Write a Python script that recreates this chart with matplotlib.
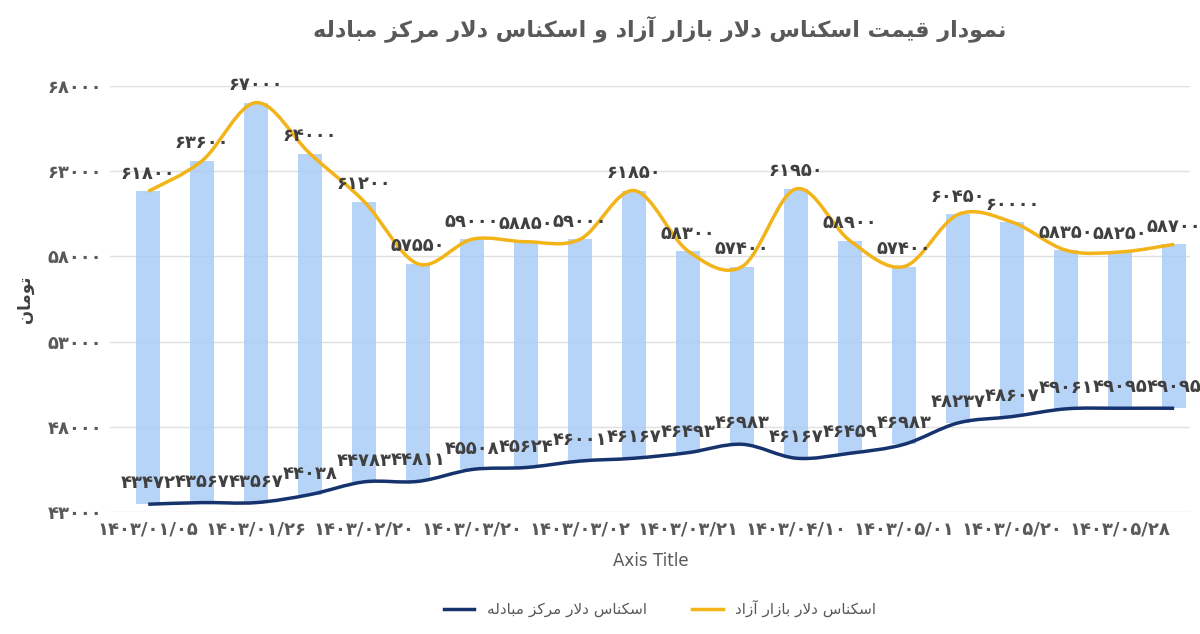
import matplotlib
matplotlib.use("Agg")
import matplotlib.pyplot as plt
from matplotlib.path import Path
from matplotlib.patches import PathPatch
from matplotlib.lines import Line2D
import numpy as np

free = [61800, 63600, 67000, 64000, 61200, 57550, 59000, 58850, 59000, 61850,
        58300, 57400, 61950, 58900, 57400, 60450, 60000, 58350, 58250, 58700]
center = [43472, 43567, 43567, 44038, 44783, 44811, 45508, 45624, 46001, 46167,
          46493, 46983, 46167, 46459, 46983, 48237, 48607, 49061, 49095, 49095]
tick_labels = ["1403/01/05", "1403/01/26", "1403/02/20", "1403/03/20", "1403/03/02",
               "1403/03/21", "1403/04/10", "1403/05/01", "1403/05/20", "1403/05/28"]
yticks = [43000, 48000, 53000, 58000, 63000, 68000]
title = "نمودار قیمت اسکناس دلار بازار آزاد و اسکناس دلار مرکز مبادله"
ylabel = "تومان"
leg_center = "اسکناس دلار مرکز مبادله"
leg_free = "اسکناس دلار بازار آزاد"

FORMS = {
    'ا': (0xFE8D, 0xFE8E, None, None), 'آ': (0xFE81, 0xFE82, None, None),
    'ب': (0xFE8F, 0xFE90, 0xFE91, 0xFE92), 'ت': (0xFE95, 0xFE96, 0xFE97, 0xFE98),
    'د': (0xFEA9, 0xFEAA, None, None), 'ر': (0xFEAD, 0xFEAE, None, None),
    'ز': (0xFEAF, 0xFEB0, None, None), 'س': (0xFEB1, 0xFEB2, 0xFEB3, 0xFEB4),
    'ف': (0xFED1, 0xFED2, 0xFED3, 0xFED4), 'ق': (0xFED5, 0xFED6, 0xFED7, 0xFED8),
    'ک': (0xFB8E, 0xFB8F, 0xFB90, 0xFB91), 'ل': (0xFEDD, 0xFEDE, 0xFEDF, 0xFEE0),
    'م': (0xFEE1, 0xFEE2, 0xFEE3, 0xFEE4), 'ن': (0xFEE5, 0xFEE6, 0xFEE7, 0xFEE8),
    'ه': (0xFEE9, 0xFEEA, 0xFEEB, 0xFEEC), 'و': (0xFEED, 0xFEEE, None, None),
    'ی': (0xFBFC, 0xFBFD, 0xFBFE, 0xFBFF),
}

def dual(c):
    return c in FORMS and FORMS[c][2] is not None

def shape(s):
    chars = []
    i = 0
    while i < len(s):
        if s[i] == 'ل' and i + 1 < len(s) and s[i+1] == 'ا':
            chars.append('LA'); i += 2
        else:
            chars.append(s[i]); i += 1
    out = []
    for k, c in enumerate(chars):
        prev = chars[k-1] if k > 0 else ' '
        nxt = chars[k+1] if k + 1 < len(chars) else ' '
        jp = dual(prev) and (c in FORMS or c == 'LA')
        if c == 'LA':
            out.append(chr(0xFEFC if jp else 0xFEFB)); continue
        if c not in FORMS:
            out.append(c); continue
        jn = dual(c) and (nxt in FORMS or nxt == 'LA')
        iso, fin, ini, med = FORMS[c]
        if jp and jn: g = med
        elif jp: g = fin
        elif jn: g = ini
        else: g = iso
        out.append(chr(g))
    return ''.join(out)[::-1]

def fa(s):
    return str(s).translate(str.maketrans("0123456789", "۰۱۲۳۴۵۶۷۸۹"))

plt.rcParams['font.family'] = 'DejaVu Sans'
fig = plt.figure(figsize=(12, 6.34), dpi=100)
ax = fig.add_axes([0.092, 0.192, 0.9, 0.673])
x = np.arange(len(free))
ax.set_xlim(-0.7, 19.3)
ax.set_ylim(43000, 68000)

bottoms = np.array(center); tops = np.array(free)
ax.bar(x, tops - bottoms, bottom=bottoms, width=0.45, color='#a9cdf7', alpha=0.85, zorder=2)

def smooth(ax, xs, ys, color, lw):
    pts = ax.transData.transform(np.column_stack([xs, ys]))
    verts = [pts[0]]; codes = [Path.MOVETO]
    n = len(pts)
    for i in range(n - 1):
        p0 = pts[i-1] if i > 0 else pts[i]
        p1 = pts[i]; p2 = pts[i+1]
        p3 = pts[i+2] if i + 2 < n else pts[i+1]
        c1 = p1 + (p2 - p0) / 6.0
        c2 = p2 - (p3 - p1) / 6.0
        verts += [c1, c2, p2]; codes += [Path.CURVE4] * 3
    path = Path(ax.transData.inverted().transform(np.array(verts)), codes)
    ax.add_patch(PathPatch(path, fill=False, edgecolor=color, lw=lw, zorder=3))

smooth(ax, x, free, '#f2b418', 2.5)
smooth(ax, x, center, '#16336e', 2.5)

for i in range(len(x)):
    ax.text(x[i], free[i] + 500, fa(free[i]), ha='center', va='bottom',
            fontsize=13, fontweight='bold', color='#404040', zorder=4)
    ax.text(x[i], center[i] + 700, fa(center[i]), ha='center', va='bottom',
            fontsize=13, fontweight='bold', color='#404040', zorder=4)

ax.set_yticks(yticks)
ax.set_yticklabels([fa(v) for v in yticks], fontsize=13, color='#595959', fontweight='bold')
ax.set_xticks(x[::2])
ax.set_xticklabels([fa(t) for t in tick_labels], fontsize=13, color='#595959', fontweight='bold')
ax.tick_params(length=0, pad=6)
ax.grid(axis='y', color='#e0e0e0', lw=1, zorder=0)
for s in ax.spines.values():
    s.set_visible(False)
ax.set_xlabel("Axis Title", fontsize=12, color='#595959', labelpad=10)
ax.set_ylabel(shape(ylabel), fontsize=12, color='#404040', fontweight='bold', labelpad=10)

fig.text(0.55, 0.955, shape(title), ha='center', va='center', fontsize=16,
         fontweight='bold', color='#595959')

handles = [Line2D([], [], color='#16336e', lw=2.5), Line2D([], [], color='#f2b418', lw=2.5)]
fig.legend(handles, [shape(leg_center), shape(leg_free)], loc='center',
           bbox_to_anchor=(0.55, 0.04), ncol=2, frameon=False, fontsize=11,
           labelcolor='#595959', columnspacing=3)
fig.savefig("out.png", dpi=100)
